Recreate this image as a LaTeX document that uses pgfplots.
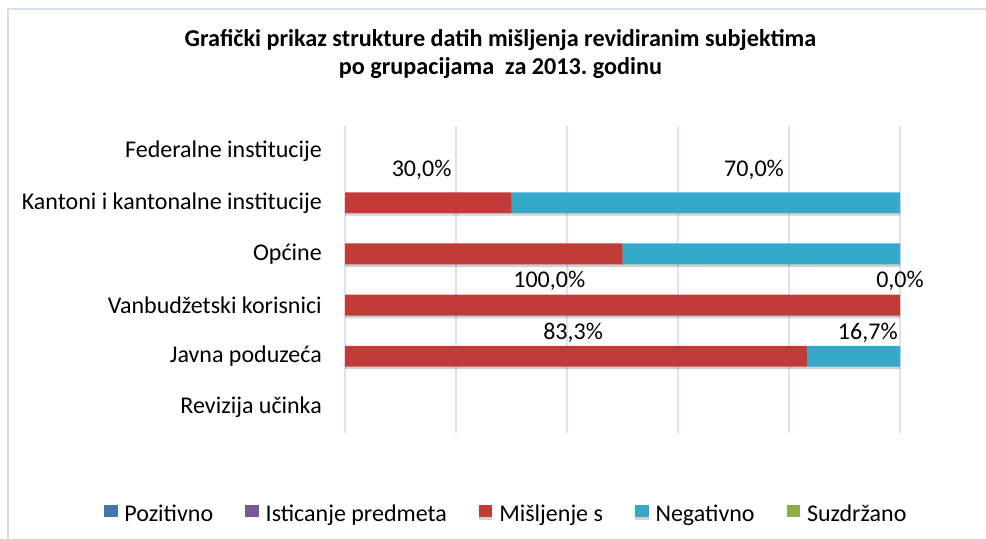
\documentclass[border=0pt]{standalone}
\usepackage{pgfplots}
\pgfplotsset{compat=1.18}
\usetikzlibrary{shadows}
\usepackage{fontspec}
\setmainfont{Carlito}
\frenchspacing
\definecolor{gridc}{HTML}{D9E3F1}
\definecolor{framec}{HTML}{D5DEEA}
\definecolor{redC}{HTML}{C13C39}
\definecolor{cyanC}{HTML}{35A9CA}
\definecolor{posC}{HTML}{4675B2}
\definecolor{istC}{HTML}{765A98}
\definecolor{suzC}{HTML}{8DAD4C}
\newcommand{\fs}{\fontsize{24bp}{29bp}\selectfont}
\newcommand{\ft}{\fontsize{24.2bp}{28.5bp}\selectfont}
\pgfplotsset{sqlegend/.style={legend image code/.code={\fill[##1] (0bp,1.5bp) rectangle (13.5bp,13.5bp);}}}
\begin{document}
\begin{tikzpicture}
\path[use as bounding box] (0bp,0bp) rectangle (986bp,539bp);
\draw[framec, line width=1.3bp] (8bp,0bp) -- (8bp,530bp) -- (986bp,530bp);
\node[font=\bfseries\ft, align=center] at (500.5bp,485bp) {Grafički prikaz strukture datih mišljenja revidiranim subjektima\\ po grupacijama~~za 2013. godinu};
\begin{axis}[
  at={(345bp,106bp)}, anchor=south west,
  width=555bp, height=307bp, scale only axis,
  xbar stacked, bar width=0.41,
  xmin=0, xmax=100, ymin=-0.5, ymax=5.5, y dir=reverse,
  ytick={0,1,2,3,4,5},
  yticklabels={Federalne institucije, Kantoni i kantonalne institucije, Općine, Vanbudžetski korisnici, Javna poduzeća, Revizija učinka},
  xtick={0,20,40,60,80,100}, xticklabels={},
  xmajorgrids, major grid style={gridc, line width=1.3bp},
  axis line style={draw=none},
  major tick length=0pt,
  yticklabel style={font=\fs, anchor=east, inner sep=0pt, xshift=-23bp},
  legend columns=5,
  legend style={at={(0.2905,-0.2685)}, anchor=center, draw=none, fill=none, font=\fs,
    nodes={text height=0.70em, text depth=0.20em},
    /tikz/every odd column/.append style={column sep=5bp},
    /tikz/every even column/.append style={column sep=30bp}},
  clip=false,
]
\addlegendimage{sqlegend, fill=posC, draw=none}
\addlegendentry{Pozitivno}
\addlegendimage{sqlegend, fill=istC, draw=none}
\addlegendentry{Isticanje predmeta}
\addplot[sqlegend, draw=none, fill=redC, drop shadow={shadow xshift=0bp, shadow yshift=-2.5bp, opacity=0.18, fill=black}] coordinates {(30,1) (50,2) (100,3) (83.3,4)};
\addlegendentry{Mišljenje s}
\addplot[sqlegend, draw=none, fill=cyanC, drop shadow={shadow xshift=0bp, shadow yshift=-2.5bp, opacity=0.18, fill=black}] coordinates {(70,1) (50,2) (0,3) (16.7,4)};
\addlegendentry{Negativno}
\addlegendimage{sqlegend, fill=suzC, draw=none}
\addlegendentry{Suzdržano}
\node[font=\fs] at (axis cs:13.8,0.36) {30,0\%};
\node[font=\fs] at (axis cs:73.7,0.36) {70,0\%};
\node[font=\fs] at (axis cs:36.8,2.53) {100,0\%};
\node[font=\fs] at (axis cs:100,2.53) {0,0\%};
\node[font=\fs] at (axis cs:41.1,3.55) {83,3\%};
\node[font=\fs] at (axis cs:94.2,3.55) {16,7\%};
\end{axis}
\end{tikzpicture}
\end{document}
